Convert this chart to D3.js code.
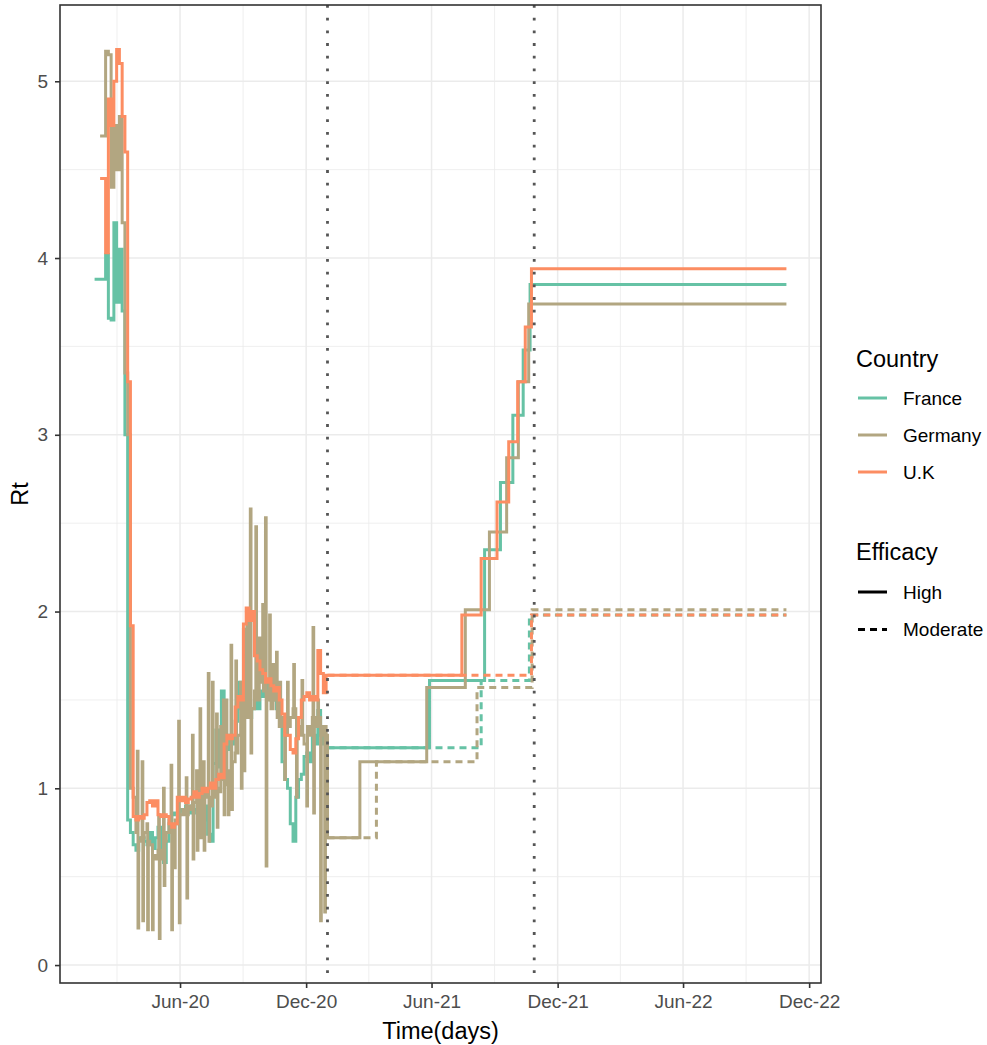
<!DOCTYPE html>
<html>
<head>
<meta charset="utf-8">
<script src="https://cdn.jsdelivr.net/npm/d3@7"></script>
<style>
  body { margin: 0; background: #fff; }
  text { font-family: "Liberation Sans", Arial, sans-serif; }
</style>
</head>
<body>
<div id="chart"></div>
<script>
// 国と効果シナリオ
const countries = ["France", "Germany", "U.K"];
const countryColors = ["#66C2A5", "#B2A681", "#FC8D62"];
const efficacies = ["High", "Moderate"];

// 目盛り
const xTickDates = ["2020-06-01", "2020-12-01", "2021-06-01", "2021-12-01", "2022-06-01", "2022-12-01"];
const yTicks = [0, 1, 2, 3, 4, 5];

// 点線（介入日）
const markerDates = ["2021-01-01", "2021-10-28"];

// 実測Rt: histStartから4日ごとの値
const histStart = "2020-01-29";
const histEnd = "2020-12-31";
const histStepDays = 4;
const franceHist = [
  3.88, 3.88, 3.88, 3.88, 4.02, 3.66, 3.65, 4.2, 3.75, 4.05,
  3.7, 3.0, 0.82, 0.75, 0.68, 0.65, 0.72, 0.72, 0.70, 0.68,
  0.75, 0.66, 0.72, 0.78, 0.62, 0.58, 0.7, 0.82, 0.85, 0.86,
  0.85, 0.88, 0.87, 0.9, 0.86, 0.9, 0.88, 0.86, 0.95, 0.82,
  0.9, 0.74, 0.7, 1.14, 1.33, 1.12, 1.55, 1.3, 1.22, 1.3,
  1.25, 1.38, 1.6, 1.45, 1.42, 1.48, 1.4, 1.45, 1.5, 1.45,
  1.55, 1.52, 1.6, 1.55, 1.5, 1.5, 1.45, 1.4, 1.15, 1.05,
  1.0, 0.8, 0.7, 0.95, 1.05, 1.08, 1.18, 1.2, 1.15, 1.3,
  1.25, 1.44, 1.3, 1.25, 1.23
];
// ドイツは基準値 + 1日だけのスパイク
const germanyHist = [
  null, null, 4.69, 4.69, 5.17, 5.15, 4.4, 4.75, 4.5, 4.8,
  4.2, 3.35, 3.0, 1.0, 0.95, 0.75, 0.7, 0.72, 0.75, 0.7,
  0.68, 0.62, 0.6, 0.65, 0.6, 0.7, 0.75, 0.8, 0.78, 0.82,
  0.8, 0.85, 0.88, 0.85, 0.9, 0.88, 0.92, 0.9, 0.95, 0.92,
  0.98, 0.95, 0.9, 0.95, 1.0, 0.98, 1.05, 1.02, 1.1, 1.08,
  1.15, 1.2, 1.3, 1.35, 1.45, 1.4, 1.5, 1.45, 1.55, 1.5,
  1.6, 1.55, 1.5, 1.55, 1.45, 1.5, 1.4, 1.35, 1.4, 1.3,
  1.35, 1.4, 1.45, 1.4, 1.35, 1.3, 1.25, 1.35, 1.3, 1.4,
  1.35, 1.4, 1.3, 1.35, 1.3
];
const germanySpikes = [
  ["2020-03-31", 1.21], ["2020-04-01", 0.21], ["2020-04-07", 1.15], ["2020-04-08", 0.25],
  ["2020-04-14", 0.8], ["2020-04-15", 0.2], ["2020-04-22", 0.2], ["2020-05-01", 0.85],
  ["2020-05-02", 0.15], ["2020-05-08", 1.0], ["2020-05-09", 0.45], ["2020-05-19", 1.13],
  ["2020-05-20", 0.2], ["2020-05-24", 0.55], ["2020-05-30", 1.38], ["2020-05-31", 0.24],
  ["2020-06-10", 1.06], ["2020-06-11", 0.38], ["2020-06-19", 1.3], ["2020-06-20", 0.6],
  ["2020-06-25", 1.1], ["2020-06-26", 0.65], ["2020-06-30", 1.45], ["2020-07-01", 0.72],
  ["2020-07-05", 1.15], ["2020-07-06", 0.65], ["2020-07-12", 1.65], ["2020-07-13", 0.7],
  ["2020-07-18", 1.6], ["2020-07-24", 1.42], ["2020-07-25", 0.78], ["2020-07-30", 1.35],
  ["2020-08-03", 1.5], ["2020-08-04", 0.85], ["2020-08-07", 1.5], ["2020-08-10", 0.85],
  ["2020-08-14", 1.81], ["2020-08-15", 0.88], ["2020-08-21", 1.72], ["2020-08-28", 1.6],
  ["2020-08-29", 1.0], ["2020-09-01", 1.9], ["2020-09-02", 1.1], ["2020-09-06", 2.0],
  ["2020-09-11", 2.58], ["2020-09-12", 1.2], ["2020-09-19", 2.48], ["2020-09-24", 1.85],
  ["2020-09-29", 2.04], ["2020-10-03", 2.53], ["2020-10-04", 0.56], ["2020-10-09", 1.98],
  ["2020-10-14", 1.7], ["2020-10-19", 1.77], ["2020-10-24", 1.6], ["2020-10-31", 1.05],
  ["2020-11-04", 1.6], ["2020-11-13", 1.7], ["2020-11-17", 0.95], ["2020-11-25", 1.61],
  ["2020-12-02", 0.9], ["2020-12-11", 1.91], ["2020-12-12", 0.86], ["2020-12-18", 1.5],
  ["2020-12-22", 0.25], ["2020-12-27", 1.35], ["2020-12-28", 0.3]
];
const ukHist = [
  null, null, 4.45, 4.45, 4.03, 4.9, 4.75, 5.0, 5.18, 5.1,
  4.8, 4.6, 3.3, 1.92, 0.84, 0.82, 0.84, 0.83, 0.85, 0.92,
  0.93, 0.9, 0.93, 0.85, 0.84, 0.85, 0.84, 0.8, 0.78, 0.8,
  0.95, 0.93, 0.95, 0.92, 0.94, 0.95, 0.98, 0.95, 0.97, 1.0,
  0.98, 1.0, 1.03, 1.0, 1.05, 1.08, 1.06, 1.25, 1.3, 1.28,
  1.3, 1.46, 1.52, 1.5, 1.93, 2.02, 1.95, 2.0, 1.75, 1.72,
  1.67, 1.65, 1.6, 1.62, 1.58, 1.55, 1.57, 1.5, 1.42, 1.3,
  1.3, 1.22, 1.2, 1.28, 1.4, 1.5, 1.52, 1.54, 1.5, 1.52,
  1.5, 1.78, 1.65, 1.54, 1.64
];

// 予測Rt: [変化日, 値]
const franceHigh = [["2021-01-01", 1.23], ["2021-05-29", 1.61], ["2021-08-17", 2.35], ["2021-09-09", 2.73], ["2021-09-27", 3.11], ["2021-10-12", 3.48], ["2021-10-22", 3.85]];
const franceModerate = [["2021-01-01", 1.23], ["2021-08-12", 1.61], ["2021-10-21", 1.98]];
const germanyHigh = [["2021-01-01", 0.72], ["2021-02-17", 1.15], ["2021-05-25", 1.57], ["2021-07-20", 2.01], ["2021-08-24", 2.45], ["2021-09-18", 2.87], ["2021-10-05", 3.30], ["2021-10-20", 3.74]];
const germanyModerate = [["2021-01-01", 0.72], ["2021-03-13", 1.15], ["2021-08-06", 1.57], ["2021-10-25", 2.01]];
const ukHigh = [["2021-01-01", 1.64], ["2021-07-15", 1.98], ["2021-08-12", 2.30], ["2021-09-04", 2.62], ["2021-09-21", 2.96], ["2021-10-04", 3.30], ["2021-10-15", 3.61], ["2021-10-24", 3.94]];
const ukModerate = [["2021-01-01", 1.64], ["2021-10-24", 1.98]];
const projectionEnd = "2022-10-29";

const parse = d3.timeParse("%Y-%m-%d");
const fmtDay = d3.timeFormat("%Y-%m-%d");

// 4日ごとの値を日ごとに展開し、スパイクを上書き（値が変わる日だけ残す）
function histPoints(vals, spikes) {
  const start = parse(histStart);
  const spikeMap = new Map(spikes || []);
  const days = d3.timeDay.range(start, d3.timeDay.offset(parse(histEnd), 1));
  const pts = [];
  days.forEach((day, k) => {
    let v = vals[Math.floor(k / histStepDays)];
    if (v === null || v === undefined) return;
    const key = fmtDay(day);
    if (spikeMap.has(key)) v = spikeMap.get(key);
    if (!pts.length || pts[pts.length - 1].rt !== v) pts.push({ date: day, rt: v });
  });
  return pts;
}
function projPoints(steps) {
  const pts = steps.map(s => ({ date: parse(s[0]), rt: s[1] }));
  pts.push({ date: parse(projectionEnd), rt: steps[steps.length - 1][1] });
  return pts;
}

const hist = [histPoints(franceHist), histPoints(germanyHist, germanySpikes), histPoints(ukHist)];
const high = [franceHigh, germanyHigh, ukHigh];
const moderate = [franceModerate, germanyModerate, ukModerate];

// 描画順: 国 × 効果
const series = [];
countries.forEach((c, ci) => {
  series.push({ country: c, efficacy: "High", values: hist[ci].concat(projPoints(high[ci])) });
  series.push({ country: c, efficacy: "Moderate", values: projPoints(moderate[ci]) });
});

const width = 987, height = 1045;
const margin = { top: 5, right: 166, bottom: 62, left: 60 };
const innerW = width - margin.left - margin.right;
const innerH = height - margin.top - margin.bottom;

const svg = d3.select("#chart").append("svg")
  .attr("width", width)
  .attr("height", height)
  .style("background", "#fff");

const g = svg.append("g").attr("transform", `translate(${margin.left},${margin.top})`);

// スケール（ggplot風に5%拡張）
const allPts = series.flatMap(s => s.values);
const xExt = d3.extent(allPts, d => d.date);
const xPad = (xExt[1] - xExt[0]) * 0.05;
const x = d3.scaleTime()
  .domain([new Date(+xExt[0] - xPad), new Date(+xExt[1] + xPad)])
  .range([0, innerW]);
const yExt = d3.extent(allPts, d => d.rt);
const yPad = (yExt[1] - yExt[0]) * 0.05;
const y = d3.scaleLinear()
  .domain([yExt[0] - yPad, yExt[1] + yPad])
  .range([innerH, 0]);

// グリッド
const xMajor = xTickDates.map(parse);
const xAll = [d3.timeMonth.offset(xMajor[0], -6)].concat(xMajor);
const xMinor = d3.pairs(xAll).map(([a, b]) => new Date((+a + +b) / 2))
  .filter(d => d >= x.domain()[0] && d <= x.domain()[1]);
const yMinor = d3.range(yTicks.length - 1).map(i => (yTicks[i] + yTicks[i + 1]) / 2);

const grid = g.append("g").attr("stroke", "#EBEBEB");
grid.selectAll(".yminor").data(yMinor).enter().append("line")
  .attr("x1", 0).attr("x2", innerW)
  .attr("y1", d => y(d)).attr("y2", d => y(d))
  .attr("stroke-width", 0.8);
grid.selectAll(".xminor").data(xMinor).enter().append("line")
  .attr("x1", d => x(d)).attr("x2", d => x(d))
  .attr("y1", 0).attr("y2", innerH)
  .attr("stroke-width", 0.8);
grid.selectAll(".ymajor").data(yTicks).enter().append("line")
  .attr("x1", 0).attr("x2", innerW)
  .attr("y1", d => y(d)).attr("y2", d => y(d))
  .attr("stroke-width", 1.5);
grid.selectAll(".xmajor").data(xMajor).enter().append("line")
  .attr("x1", d => x(d)).attr("x2", d => x(d))
  .attr("y1", 0).attr("y2", innerH)
  .attr("stroke-width", 1.5);

// 線（ステップ）
const colorOf = d3.scaleOrdinal().domain(countries).range(countryColors);
const line = d3.line()
  .x(d => x(d.date))
  .y(d => y(d.rt))
  .curve(d3.curveStepAfter);

g.selectAll(".series").data(series).enter().append("path")
  .attr("class", "series")
  .attr("d", d => line(d.values))
  .attr("fill", "none")
  .attr("stroke", d => colorOf(d.country))
  .attr("stroke-width", 3)
  .attr("stroke-dasharray", d => d.efficacy === "Moderate" ? "7,5" : null);

// 縦の点線
g.selectAll(".marker").data(markerDates.map(parse)).enter().append("line")
  .attr("x1", d => x(d)).attr("x2", d => x(d))
  .attr("y1", 0).attr("y2", innerH)
  .attr("stroke", "#555")
  .attr("stroke-width", 2.8)
  .attr("stroke-dasharray", "2.8,9.9");

// パネル枠
g.append("rect")
  .attr("width", innerW).attr("height", innerH)
  .attr("fill", "none").attr("stroke", "#333").attr("stroke-width", 1.6);

// 軸
const fmt = d3.timeFormat("%b-%y");
const xAxis = g.append("g")
  .attr("transform", `translate(0,${innerH})`)
  .call(d3.axisBottom(x).tickValues(xMajor).tickFormat(fmt).tickSize(5).tickPadding(7));
const yAxis = g.append("g")
  .call(d3.axisLeft(y).tickValues(yTicks).tickFormat(d3.format("d")).tickSize(5).tickPadding(7));
[xAxis, yAxis].forEach(ax => {
  ax.select(".domain").remove();
  ax.selectAll(".tick line").attr("stroke", "#333").attr("stroke-width", 1.6);
  ax.selectAll(".tick text")
    .attr("fill", "#4D4D4D")
    .style("font-size", "19px")
    .style("font-family", "'Liberation Sans', Arial, sans-serif");
});

// 軸タイトル
svg.append("text")
  .attr("x", margin.left + innerW / 2)
  .attr("y", 1039)
  .attr("text-anchor", "middle")
  .style("font-size", "23.5px")
  .text("Time(days)");
svg.append("text")
  .attr("transform", `translate(28,${margin.top + innerH / 2}) rotate(-90)`)
  .attr("text-anchor", "middle")
  .style("font-size", "23.5px")
  .text("Rt");

// 凡例
const lg = svg.append("g").attr("transform", "translate(856,0)");
lg.append("text").attr("x", 0).attr("y", 367).style("font-size", "23.5px").text("Country");
const cItems = lg.selectAll(".citem").data(countries).enter().append("g")
  .attr("transform", (d, i) => `translate(0,${398 + i * 37})`);
cItems.append("line")
  .attr("x1", 2).attr("x2", 31).attr("y1", 0).attr("y2", 0)
  .attr("stroke", d => colorOf(d)).attr("stroke-width", 3);
cItems.append("text")
  .attr("x", 47).attr("y", 0).attr("dy", "0.35em")
  .style("font-size", "19px")
  .text(d => d);

lg.append("text").attr("x", 0).attr("y", 560).style("font-size", "23.5px").text("Efficacy");
const eItems = lg.selectAll(".eitem").data(efficacies).enter().append("g")
  .attr("transform", (d, i) => `translate(0,${592 + i * 37.5})`);
eItems.append("line")
  .attr("x1", 2).attr("x2", 31).attr("y1", 0).attr("y2", 0)
  .attr("stroke", "#000").attr("stroke-width", 3)
  .attr("stroke-dasharray", d => d === "Moderate" ? "7,5" : null);
eItems.append("text")
  .attr("x", 47).attr("y", 0).attr("dy", "0.35em")
  .style("font-size", "19px")
  .text(d => d);
</script>
</body>
</html>
